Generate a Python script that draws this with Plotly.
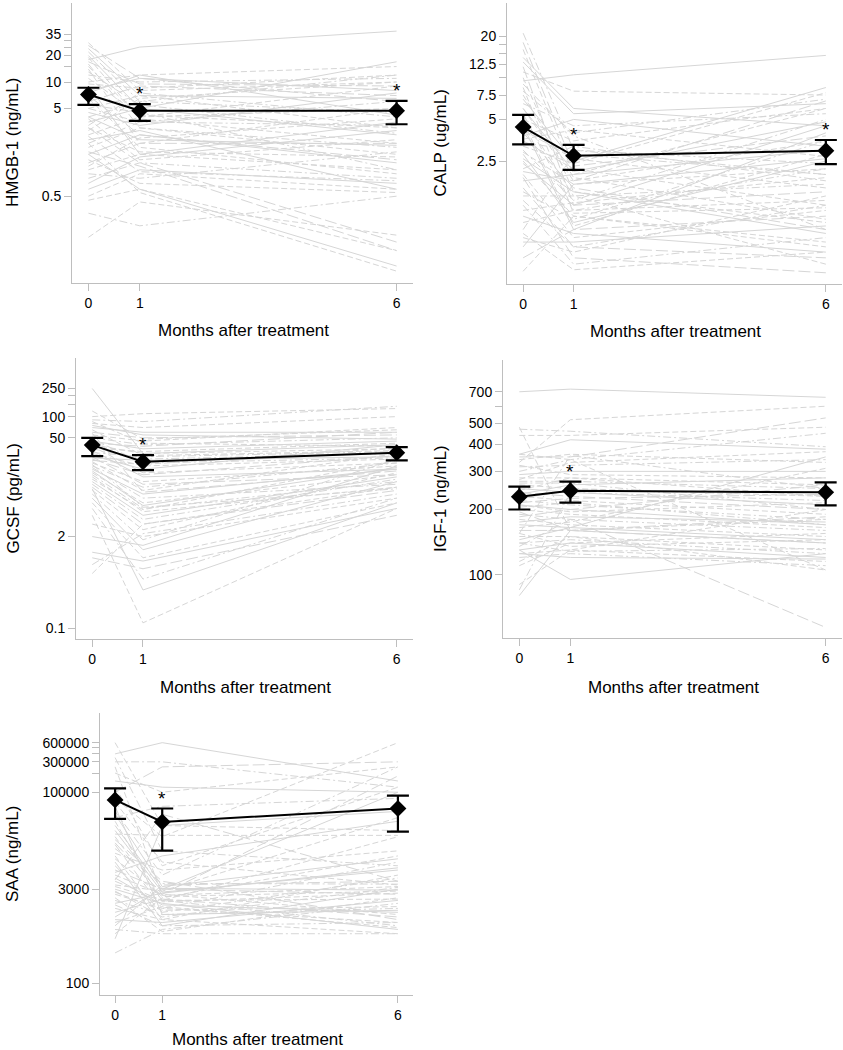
import math
import plotly.graph_objects as go

W, H = 843, 1050
MONTHS = [0, 1, 6]
MONTH_LABELS = ["0", "1", "6"]
XLABEL = "Months after treatment"

# ---------------- HMGB-1 ----------------
HMGB_0 = [18, 0.17, 0.32, 2.0, 1.5, 3.0, 28, 22, 20, 15, 12, 10, 8, 6, 5, 4, 3.5, 2.5, 2, 1.8,
          1.5, 1.2, 1.0, 0.8, 0.6, 0.5, 16, 14, 9, 7, 6.5, 5.5, 4.5, 3.8, 3.2, 2.8, 2.2, 1.6, 1.3, 0.9,
          0.7, 11, 13, 19, 24, 17, 9.5, 5, 4, 3, 2.4, 1.1, 7.5, 26, 0.45]
HMGB_1 = [25, 0.43, 0.23, 0.55, 0.6, 1.2, 8, 6, 5, 4, 10, 12, 11, 9, 7, 6, 5, 4, 3.5, 3,
          2.5, 2, 1.5, 1.2, 1.0, 0.9, 3, 2, 1.5, 2.5, 1.8, 4.5, 3.2, 1.3, 7.5, 6.5, 2.8, 1.1, 0.7, 0.8,
          1.4, 4.2, 5.5, 3.8, 7, 9.5, 8.5, 3.5, 2.2, 1.6, 0.95, 2.3, 12, 11, 0.6]
HMGB_6 = [38, 0.18, 0.5, 0.07, 0.08, 0.15, 10, 12, 17, 9, 11, 15, 8, 7, 3, 4.5, 2.5, 5, 6, 1.5,
          1.2, 2, 1.0, 0.8, 0.7, 0.6, 1.8, 5, 3.5, 1.3, 0.9, 1.0, 7.5, 2.2, 4, 10, 0.6, 0.12, 0.55, 1.6,
          2.8, 3.0, 2.6, 2.0, 6.5, 9.0, 12, 3.2, 1.9, 1.4, 0.75, 3.8, 4.2, 6, 0.12]
HMGB_MEAN = [7.2, 4.7, 4.7]
HMGB_LO = [5.5, 3.6, 3.3]
HMGB_HI = [8.6, 5.6, 6.1]
HMGB_SIG = [False, True, True]
HMGB_TICKS = [0.5, 5, 10, 15, 20, 25, 30, 35]
HMGB_TICKTEXT = ["0.5", "5", "10", "", "20", "", "", "35"]

# ---------------- CALP ----------------
CALP_0 = [9.5, 11, 21, 16, 14, 12, 10, 8, 7, 6, 5.5, 5, 4.5, 4, 3.5, 3, 2.8, 2.5, 2.2, 2.0,
          1.8, 1.6, 1.4, 1.2, 1.0, 0.9, 0.8, 0.7, 0.6, 0.5, 0.4, 6.5, 3.8, 4.2, 9, 7.5, 2.4, 1.9, 3.2, 5.2,
          13, 2.9, 1.5, 1.1, 0.65, 18, 4.8, 3.4, 2.6, 8.5, 1.3, 0.75, 6, 2.1, 3.6]
CALP_1 = [10.5, 8, 3, 2, 6, 1.2, 1.5, 4, 2.5, 1.8, 1.1, 3.5, 0.8, 1.6, 2.2, 1.3, 0.9, 1.0, 3.2, 0.7,
          2.0, 0.6, 1.4, 0.45, 0.75, 1.1, 2.8, 0.55, 1.7, 0.8, 1.0, 4.5, 5, 2.6, 3.8, 1.9, 1.2, 0.5, 2.4, 1.4,
          5.5, 1.7, 0.95, 1.25, 0.65, 2.3, 0.85, 3.0, 1.5, 1.05, 0.6, 0.41, 2.1, 1.8, 4.2]
CALP_6 = [14.5, 7.5, 2, 6, 4.5, 1.5, 0.9, 7, 8.5, 3.5, 2.2, 6, 4, 0.8, 1.2, 5, 2.5, 0.6, 1.8, 1.1,
          3, 0.5, 0.45, 0.7, 0.55, 1.3, 2.0, 1.4, 2.6, 1.0, 0.65, 5.5, 3.2, 1.6, 0.8, 0.95, 4.5, 0.39, 7.8, 1.7,
          6.5, 2.2, 3.5, 1.9, 0.85, 3.8, 2.8, 2.4, 0.75, 1.15, 1.2, 0.55, 4.8, 6.8, 2.7]
CALP_MEAN = [4.4, 2.73, 2.97]
CALP_LO = [3.3, 2.16, 2.38]
CALP_HI = [5.4, 3.27, 3.55]
CALP_SIG = [False, True, True]
CALP_TICKS = [2.5, 5, 7.5, 10, 12.5, 15, 17.5, 20]
CALP_TICKTEXT = ["2.5", "5", "7.5", "", "12.5", "", "", "20"]

# ---------------- GCSF ----------------
GCSF_0 = [250, 100, 90, 80, 70, 60, 55, 50, 45, 40, 35, 30, 28, 25, 22, 20, 18, 16, 15, 14,
          12, 10, 9, 8, 7, 6, 5, 4, 2, 1, 0.6, 0.8, 1.2, 65, 48, 38, 33, 27, 23, 19,
          17, 13, 11, 85, 75, 42, 36, 31, 26, 24, 21, 3, 9.5, 58, 120]
GCSF_1 = [30, 110, 85, 70, 60, 50, 45, 40, 35, 30, 25, 20, 18, 15, 12, 10, 8, 6, 5, 4.5,
          4, 3, 2.5, 1.8, 1.3, 1.0, 0.5, 0.12, 1.5, 0.7, 3, 2.2, 0.9, 28, 22, 16, 14, 11, 9, 7,
          5.5, 4.8, 3.5, 42, 55, 38, 32, 27, 24, 21, 5.2, 2, 0.35, 8.5, 48]
GCSF_6 = [40, 130, 140, 100, 60, 55, 70, 50, 45, 35, 30, 25, 40, 28, 20, 22, 18, 15, 12, 10,
          14, 9, 16, 25, 12, 6, 7, 5, 20, 4, 10, 8, 5, 33, 26, 22, 18, 15, 30, 11,
          19, 24, 13, 38, 48, 60, 42, 32, 27, 36, 9.5, 7, 6, 17, 65]
GCSF_MEAN = [39.5, 22.9, 30.7]
GCSF_LO = [27.5, 17.5, 24.0]
GCSF_HI = [50.0, 28.5, 36.9]
GCSF_SIG = [False, True, False]
GCSF_TICKS = [0.1, 2, 50, 100, 150, 200, 250]
GCSF_TICKTEXT = ["0.1", "2", "50", "100", "", "", "250"]

# ---------------- IGF-1 ----------------
IGF_0 = [700, 330, 470, 440, 360, 350, 340, 300, 290, 280, 270, 260, 250, 240, 230, 220, 210, 200, 190, 180,
         170, 160, 150, 140, 130, 125, 120, 115, 130, 135, 480, 85, 80, 90, 155, 360, 145, 185, 165, 205,
         225, 245, 265, 210, 175, 195, 155, 140, 125, 110, 315, 275, 235, 215, 320]
IGF_1 = [720, 520, 460, 440, 420, 350, 360, 340, 300, 280, 270, 250, 240, 230, 220, 210, 200, 190, 180, 170,
         165, 160, 150, 145, 140, 130, 125, 150, 95, 180, 160, 240, 160, 130, 355, 340, 165, 200, 175, 215,
         245, 280, 265, 195, 185, 160, 135, 128, 120, 140, 320, 330, 260, 225, 290]
IGF_6 = [660, 600, 390, 480, 380, 530, 330, 450, 300, 260, 250, 230, 210, 200, 190, 180, 170, 165, 160, 150,
         145, 140, 130, 125, 120, 115, 110, 105, 125, 57, 180, 220, 140, 200, 250, 105, 350, 260, 310, 170,
         240, 230, 200, 215, 175, 185, 145, 132, 118, 155, 340, 370, 280, 235, 280]
IGF_MEAN = [229, 244, 240]
IGF_LO = [200, 215, 209]
IGF_HI = [255, 269, 267]
IGF_SIG = [False, True, False]
IGF_TICKS = [100, 200, 300, 400, 500, 600, 700]
IGF_TICKTEXT = ["100", "200", "300", "400", "500", "", "700"]

# ---------------- SAA ----------------
SAA_0 = [400000, 600000, 300000, 200000, 150000, 100000, 80000, 50000, 30000, 20000, 15000, 10000, 8000, 6000,
         5000, 4000, 3000, 2500, 2000, 1500, 1000, 800, 600, 300, 500, 22000, 40000, 70000, 25000, 18000,
         9000, 7000, 4500, 3500, 2800, 2200, 1800, 1300, 900, 700, 45000, 35000, 13000, 11000, 5500,
         4200, 2700, 1700, 1100, 250000, 350000, 120000, 60000, 16000, 3300]
SAA_1 = [600000, 30000, 300000, 100000, 120000, 250000, 20000, 5000, 3000, 2000, 1500, 1000, 800, 3000,
         2500, 2000, 1800, 1500, 1200, 1000, 900, 3500, 2200, 700, 30000, 21000, 60000, 8000, 2700, 4000,
         2300, 1300, 1700, 2800, 1100, 650, 2600, 2100, 1600, 600, 3300, 1900, 3700, 6000, 10000,
         45000, 1400, 800, 3100, 2400, 12000, 7000, 1200, 2500, 2000]
SAA_6 = [150000, 25000, 120000, 250000, 100000, 300000, 600000, 250000, 100000, 20000, 8000, 5000, 3000, 2500,
         1200, 800, 700, 900, 1500, 600, 2000, 4000, 10000, 1800, 50000, 21000, 80000, 3500, 6000, 1000,
         2800, 4500, 1300, 40000, 3200, 2200, 6500, 1100, 750, 600, 9000, 2600, 3600, 12000, 35000,
         4000, 1600, 900, 2900, 3300, 7000, 120000, 1400, 180000, 2100]
SAA_MEAN = [75700, 34200, 55500]
SAA_LO = [38100, 12100, 24000]
SAA_HI = [115000, 55500, 88400]
SAA_SIG = [False, True, False]
SAA_TICKS = [100, 3000, 100000, 200000, 300000, 400000, 500000, 600000]
SAA_TICKTEXT = ["100", "3000", "100000", "", "300000", "", "", "600000"]

# ---------------- layout helpers (pixel boxes) ----------------
PANELS = [
    dict(name="HMGB-1 (ng/mL)", d0=HMGB_0, d1=HMGB_1, d6=HMGB_6, mean=HMGB_MEAN, lo=HMGB_LO, hi=HMGB_HI,
         sig=HMGB_SIG, ticks=HMGB_TICKS, ticktext=HMGB_TICKTEXT, yr=[-1.29, 1.90],
         box=(72, 413, 3, 283), ytitle_x=12, xtitle_y=330),
    dict(name="CALP (ug/mL)", d0=CALP_0, d1=CALP_1, d6=CALP_6, mean=CALP_MEAN, lo=CALP_LO, hi=CALP_HI,
         sig=CALP_SIG, ticks=CALP_TICKS, ticktext=CALP_TICKTEXT, yr=[-0.49, 1.54],
         box=(507, 842, 3, 284), ytitle_x=440, xtitle_y=332),
    dict(name="GCSF (pg/mL)", d0=GCSF_0, d1=GCSF_1, d6=GCSF_6, mean=GCSF_MEAN, lo=GCSF_LO, hi=GCSF_HI,
         sig=GCSF_SIG, ticks=GCSF_TICKS, ticktext=GCSF_TICKTEXT, yr=[-1.15, 2.83],
         box=(76, 413, 358, 639), ytitle_x=13, xtitle_y=687),
    dict(name="IGF-1 (ng/mL)", d0=IGF_0, d1=IGF_1, d6=IGF_6, mean=IGF_MEAN, lo=IGF_LO, hi=IGF_HI,
         sig=IGF_SIG, ticks=IGF_TICKS, ticktext=IGF_TICKTEXT, yr=[1.707, 2.992],
         box=(503, 842, 360, 638), ytitle_x=440, xtitle_y=687),
    dict(name="SAA (ng/mL)", d0=SAA_0, d1=SAA_1, d6=SAA_6, mean=SAA_MEAN, lo=SAA_LO, hi=SAA_HI,
         sig=SAA_SIG, ticks=SAA_TICKS, ticktext=SAA_TICKTEXT, yr=[1.816, 6.244],
         box=(100, 413, 713, 995), ytitle_x=12, xtitle_y=1039),
]

DASHES = ["solid", "6px,3px", "8px,3px,2px,3px", "6px,3px", "solid", "12px,4px", "6px,3px", "8px,3px,2px,3px"]
GREY = "rgb(214,214,214)"
AXIS_GREY = "rgb(190,190,190)"
FONT = "Liberation Sans, Arial, sans-serif"

fig = go.Figure()
layout = dict(width=W, height=H, margin=dict(l=0, r=0, t=0, b=0), showlegend=False,
              plot_bgcolor="white", paper_bgcolor="white", font=dict(family=FONT, color="black"))
annotations = []

for k, p in enumerate(PANELS):
    idx = "" if k == 0 else str(k + 1)
    xa, ya = "x" + idx, "y" + idx
    x0, x1, yt, yb = p["box"]
    layout["xaxis" + idx] = dict(
        domain=[x0 / W, x1 / W], anchor=ya, range=[-0.32, 6.32], tickvals=MONTHS, ticktext=MONTH_LABELS,
        showline=True, linecolor=AXIS_GREY, linewidth=1, ticks="outside", ticklen=7, tickcolor=AXIS_GREY,
        showgrid=False, zeroline=False, tickfont=dict(size=14, family=FONT, color="black"))
    layout["yaxis" + idx] = dict(
        domain=[1 - yb / H, 1 - yt / H], anchor=xa, type="log", range=p["yr"], tickvals=p["ticks"],
        ticktext=p["ticktext"], showline=True, linecolor=AXIS_GREY, linewidth=1, ticks="outside", ticklen=7,
        tickcolor=AXIS_GREY, showgrid=False, zeroline=False, tickfont=dict(size=14, family=FONT, color="black"))

    for i, (a, b, c) in enumerate(zip(p["d0"], p["d1"], p["d6"])):
        fig.add_trace(go.Scatter(x=MONTHS, y=[a, b, c], mode="lines", xaxis=xa, yaxis=ya,
                                 line=dict(color=GREY, width=1, dash=DASHES[i % len(DASHES)]),
                                 hoverinfo="skip"))

    up = [h - m for h, m in zip(p["hi"], p["mean"])]
    dn = [m - l for m, l in zip(p["mean"], p["lo"])]
    fig.add_trace(go.Scatter(x=MONTHS, y=p["mean"], mode="lines+markers", xaxis=xa, yaxis=ya,
                             line=dict(color="black", width=2),
                             marker=dict(symbol="diamond", size=13, color="black"),
                             error_y=dict(type="data", symmetric=False, array=up, arrayminus=dn,
                                          color="black", thickness=2.2, width=11)))
    for m, h, s in zip(MONTHS, p["hi"], p["sig"]):
        if s:
            annotations.append(dict(x=m, y=math.log10(h), xref=xa, yref=ya, text="*", showarrow=False,
                                    yanchor="bottom", yshift=-2, font=dict(size=19, family=FONT, color="black")))

    annotations.append(dict(x=p["ytitle_x"] / W, y=1 - (yt + yb) / 2 / H, xref="paper", yref="paper",
                            text=p["name"], textangle=-90, showarrow=False, xanchor="center", yanchor="middle",
                            font=dict(size=17, family=FONT, color="black")))
    annotations.append(dict(x=((x0 + x1) / 2 + 1) / W, y=1 - p["xtitle_y"] / H, xref="paper", yref="paper",
                            text=XLABEL, showarrow=False, xanchor="center", yanchor="middle",
                            font=dict(size=17, family=FONT, color="black")))

layout["annotations"] = annotations
fig.update_layout(**layout)
fig.write_html("out.html", config={"displayModeBar": False},
               post_script="document.body.style.margin='0';document.body.style.padding='0';"
                           "document.documentElement.style.overflow='hidden';")
